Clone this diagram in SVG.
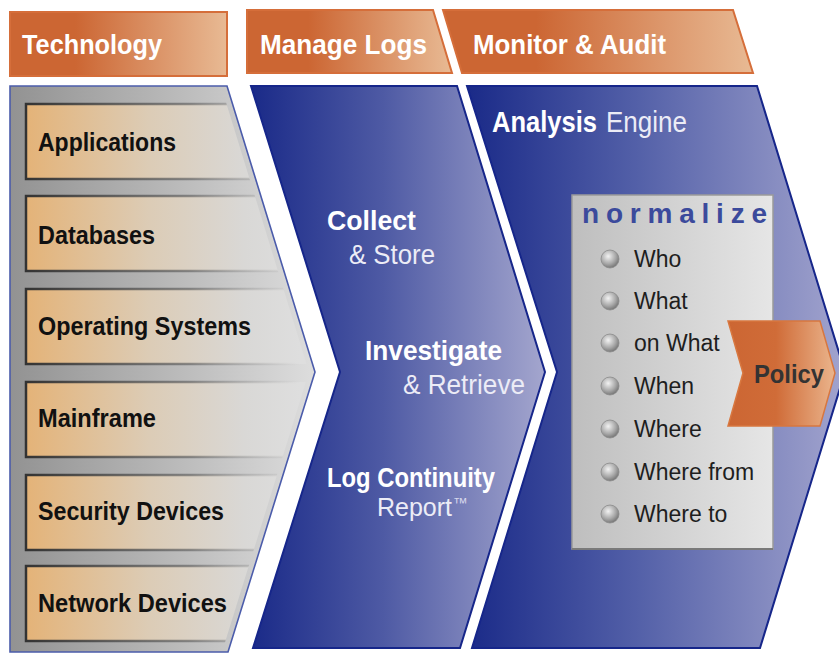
<svg xmlns="http://www.w3.org/2000/svg" width="839" height="654" viewBox="0 0 839 654">
<defs>
<linearGradient id="hdr1" gradientUnits="userSpaceOnUse" x1="10" y1="0" x2="227" y2="0"><stop offset="0" stop-color="#CC6633"/><stop offset="0.3" stop-color="#CC6633"/><stop offset="1" stop-color="#E8BA94"/></linearGradient>
<linearGradient id="hdr2" gradientUnits="userSpaceOnUse" x1="247" y1="0" x2="452" y2="0"><stop offset="0" stop-color="#CC6633"/><stop offset="0.3" stop-color="#CC6633"/><stop offset="1" stop-color="#E8BA94"/></linearGradient>
<linearGradient id="hdr3" gradientUnits="userSpaceOnUse" x1="443" y1="0" x2="753" y2="0"><stop offset="0" stop-color="#CC6633"/><stop offset="0.3" stop-color="#CC6633"/><stop offset="1" stop-color="#E8BA94"/></linearGradient>
<linearGradient id="grayGrad" gradientUnits="userSpaceOnUse" x1="10" y1="0" x2="310" y2="0"><stop offset="0" stop-color="#929292"/><stop offset="0.5" stop-color="#B6B6B6"/><stop offset="1" stop-color="#DCDCDC"/></linearGradient>
<linearGradient id="blue1" gradientUnits="userSpaceOnUse" x1="251" y1="0" x2="545" y2="0"><stop offset="0" stop-color="#1A2A88"/><stop offset="0.45" stop-color="#4E5AA4"/><stop offset="1" stop-color="#A4A6CE"/></linearGradient>
<linearGradient id="blue2" gradientUnits="userSpaceOnUse" x1="467" y1="0" x2="845" y2="0"><stop offset="0" stop-color="#1A2A88"/><stop offset="0.45" stop-color="#5360A8"/><stop offset="1" stop-color="#A2A4CE"/></linearGradient>
<linearGradient id="boxGrad" gradientUnits="userSpaceOnUse" x1="26" y1="0" x2="300" y2="0"><stop offset="0" stop-color="#E4B378"/><stop offset="0.45" stop-color="#DCCCB6"/><stop offset="0.8" stop-color="#D9D8D6"/><stop offset="1" stop-color="#DEDEDE"/></linearGradient>
<linearGradient id="boxEdge" gradientUnits="userSpaceOnUse" x1="26" y1="0" x2="300" y2="0"><stop offset="0" stop-color="#333"/><stop offset="0.6" stop-color="#666" stop-opacity="0.7"/><stop offset="1" stop-color="#999" stop-opacity="0"/></linearGradient>
<linearGradient id="normGrad" gradientUnits="userSpaceOnUse" x1="572" y1="0" x2="773" y2="0"><stop offset="0" stop-color="#BEBEBE"/><stop offset="1" stop-color="#E6E6E6"/></linearGradient>
<linearGradient id="polGrad" gradientUnits="userSpaceOnUse" x1="728" y1="0" x2="835" y2="0"><stop offset="0" stop-color="#CC6633"/><stop offset="0.45" stop-color="#D06C38"/><stop offset="1" stop-color="#EAB48C"/></linearGradient>
<radialGradient id="ball" cx="0.4" cy="0.35" r="0.7"><stop offset="0" stop-color="#F2F2F2"/><stop offset="0.6" stop-color="#A8A8A8"/><stop offset="1" stop-color="#6E6E6E"/></radialGradient>
<clipPath id="panelClip"><polygon points="10,86 221,86 309,372 222,652 10,652"/></clipPath>
</defs>
<style>
.hdr{font-family:"Liberation Sans",Arial,sans-serif;font-weight:bold;font-size:27px;fill:#FFFFFF}
.item{font-family:"Liberation Sans",Arial,sans-serif;font-weight:bold;font-size:26px;fill:#111111}
.wb{font-family:"Liberation Sans",Arial,sans-serif;font-weight:bold;font-size:28px;fill:#FFFFFF}
.wr{font-family:"Liberation Sans",Arial,sans-serif;font-size:28px;fill:#ECECF6}
.li{font-family:"Liberation Sans",Arial,sans-serif;font-size:23px;fill:#1E1E1E}
.box{fill:url(#boxGrad)}
.edge{fill:none;stroke:url(#boxEdge);stroke-width:2.5}
.bul{fill:url(#ball);stroke:#8A8A8A;stroke-width:0.8}
</style>
<rect width="839" height="654" fill="#FFFFFF"/>

<g id="header-technology">
<rect x="10" y="12" width="217" height="64" fill="url(#hdr1)" stroke="#D56E3A" stroke-width="2"/>
<text class="hdr" x="22" y="54" textLength="140" lengthAdjust="spacingAndGlyphs">Technology</text>
</g>
<g id="header-manage-logs">
<polygon points="247,10 433,10 452,73 247,73" fill="url(#hdr2)" stroke="#D56E3A" stroke-width="2"/>
<text class="hdr" x="260" y="54" textLength="167" lengthAdjust="spacingAndGlyphs">Manage Logs</text>
</g>
<g id="header-monitor-audit">
<polygon points="443,10 733,10 753,73 462,73" fill="url(#hdr3)" stroke="#D56E3A" stroke-width="2"/>
<text class="hdr" x="473" y="54" textLength="193" lengthAdjust="spacingAndGlyphs">Monitor &amp; Audit</text>
</g>

<g id="technology-panel">
<polygon points="10,86 227,86 315,372 228,652 10,652" fill="url(#grayGrad)" stroke="#4B5CAB" stroke-width="1.6"/>
<g clip-path="url(#panelClip)">
<g id="applications"><rect class="box" x="26" y="104" width="300" height="75"/><path class="edge" d="M300,104 H26 V179 H300"/><text class="item" x="38" y="151" textLength="138" lengthAdjust="spacingAndGlyphs">Applications</text></g>
<g id="databases"><rect class="box" x="26" y="196" width="300" height="75"/><path class="edge" d="M300,196 H26 V271 H300"/><text class="item" x="38" y="244" textLength="117" lengthAdjust="spacingAndGlyphs">Databases</text></g>
<g id="operating-systems"><rect class="box" x="26" y="289" width="300" height="75"/><path class="edge" d="M300,289 H26 V364 H300"/><text class="item" x="38" y="335" textLength="213" lengthAdjust="spacingAndGlyphs">Operating Systems</text></g>
<g id="mainframe"><rect class="box" x="26" y="382" width="300" height="75"/><path class="edge" d="M300,382 H26 V457 H300"/><text class="item" x="38" y="427" textLength="118" lengthAdjust="spacingAndGlyphs">Mainframe</text></g>
<g id="security-devices"><rect class="box" x="26" y="475" width="300" height="75"/><path class="edge" d="M300,475 H26 V550 H300"/><text class="item" x="38" y="520" textLength="186" lengthAdjust="spacingAndGlyphs">Security Devices</text></g>
<g id="network-devices"><rect class="box" x="26" y="566" width="300" height="75"/><path class="edge" d="M300,566 H26 V641 H300"/><text class="item" x="38" y="612" textLength="189" lengthAdjust="spacingAndGlyphs">Network Devices</text></g>
</g>
</g>

<g id="manage-logs-chevron">
<polygon points="251,86 457,86 545,372 460,648 253,648 340,372" fill="url(#blue1)" stroke="#16268A" stroke-width="2"/>
<text class="wb" x="327" y="230" textLength="89" lengthAdjust="spacingAndGlyphs">Collect</text>
<text class="wr" x="349" y="264" textLength="86" lengthAdjust="spacingAndGlyphs">&amp; Store</text>
<text class="wb" x="365" y="360" textLength="137" lengthAdjust="spacingAndGlyphs">Investigate</text>
<text class="wr" x="403" y="394" textLength="122" lengthAdjust="spacingAndGlyphs">&amp; Retrieve</text>
<text class="wb" x="327" y="487" textLength="168" lengthAdjust="spacingAndGlyphs">Log Continuity</text>
<text x="377" y="516" font-family="Liberation Sans, Arial, sans-serif" font-size="25" fill="#ECECF6">Report</text>
<text x="453" y="508" font-family="Liberation Sans, Arial, sans-serif" font-size="15" fill="#D8D8EC">™</text>
</g>

<g id="monitor-audit-chevron">
<polygon points="467,86 757,86 845,372 760,648 472,648 557,372" fill="url(#blue2)" stroke="#16268A" stroke-width="2"/>
<text x="492" y="132" font-family="Liberation Sans, Arial, sans-serif" font-size="29" fill="#FFFFFF"><tspan font-weight="bold" textLength="105" lengthAdjust="spacingAndGlyphs">Analysis</tspan><tspan x="606" fill="#ECECF6" textLength="81" lengthAdjust="spacingAndGlyphs">Engine</tspan></text>
</g>

<g id="normalize">
<rect x="572" y="195" width="201" height="354" fill="url(#normGrad)" stroke="#9A9A9A" stroke-width="1.5"/>
<line x1="572" y1="549" x2="773" y2="549" stroke="#7A7A7A" stroke-width="2"/>
<text x="582" y="223" font-family="Liberation Sans, Arial, sans-serif" font-weight="bold" font-size="28" fill="#3B4A9C" textLength="185" lengthAdjust="spacing">normalize</text>
<circle class="bul" cx="610" cy="259" r="9"/><text class="li" x="634" y="267">Who</text>
<circle class="bul" cx="610" cy="301" r="9"/><text class="li" x="634" y="309">What</text>
<circle class="bul" cx="610" cy="343" r="9"/><text class="li" x="634" y="351">on What</text>
<circle class="bul" cx="610" cy="386" r="9"/><text class="li" x="634" y="394">When</text>
<circle class="bul" cx="610" cy="429" r="9"/><text class="li" x="634" y="437">Where</text>
<circle class="bul" cx="610" cy="472" r="9"/><text class="li" x="634" y="480">Where from</text>
<circle class="bul" cx="610" cy="514" r="9"/><text class="li" x="634" y="522">Where to</text>
</g>

<g id="policy">
<polygon points="728,321 820,321 835,373 820,426 728,426 743,373" fill="url(#polGrad)" stroke="#D8773F" stroke-width="1.5"/>
<text x="754" y="383" font-family="Liberation Sans, Arial, sans-serif" font-weight="bold" font-size="26" fill="#333333" textLength="70" lengthAdjust="spacingAndGlyphs">Policy</text>
</g>

<g id="connectors"/>
</svg>
